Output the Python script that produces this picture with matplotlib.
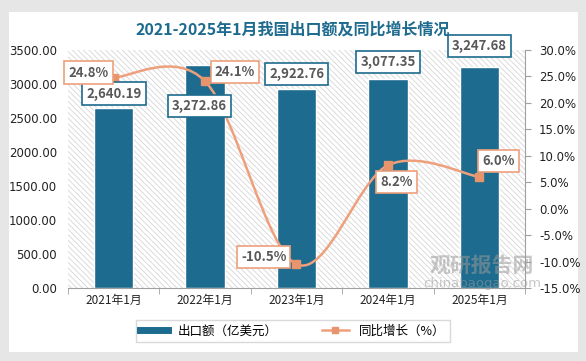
import matplotlib
matplotlib.use("Agg")
import matplotlib.pyplot as plt
from matplotlib.patches import Rectangle, PathPatch
from matplotlib.path import Path
from matplotlib.lines import Line2D
import numpy as np

plt.rcParams['font.family'] = ['Noto Sans CJK SC', 'DejaVu Sans']
plt.rcParams['hatch.linewidth'] = 0.6

categories = ['2021年1月', '2022年1月', '2023年1月', '2024年1月', '2025年1月']
exports = [2640.19, 3272.86, 2922.76, 3077.35, 3247.68]
growth = [24.8, 24.1, -10.5, 8.2, 6.0]
left_ticks = [0, 500, 1000, 1500, 2000, 2500, 3000, 3500]
right_ticks = [-15, -10, -5, 0, 5, 10, 15, 20, 25, 30]

BAR = '#1D6B8E'
LINE = '#EEA07C'
MARK = '#E8956E'
TXT = '#595959'

W, H = 586, 361
fig = plt.figure(figsize=(W/100, H/100), dpi=100, facecolor='#E6E6E6')
fig.patches.append(Rectangle((9/W, 1-352/H), (578-9)/W, (352-12)/H,
                             transform=fig.transFigure, facecolor='white',
                             edgecolor='none', zorder=-10))

ax = fig.add_axes([68/W, 1-288/H, (525-68)/W, (288-50)/H])
ax.set_facecolor('none')
ax.add_patch(Rectangle((0, 0), 1, 1, transform=ax.transAxes, facecolor='white',
                       edgecolor='#D6D6D6', hatch='\\\\\\\\\\\\', lw=0, zorder=0))

x = np.arange(len(categories))
ax.bar(x, exports, width=0.43, color=BAR, edgecolor='white', linewidth=1.0, zorder=2)
ax.set_xlim(-0.5, 4.5)
ax.set_ylim(0, 3500)
ax.set_yticks(left_ticks)
ax.set_yticklabels([f'{v:.2f}' for v in left_ticks], fontsize=8.5, color='#222222',
                   family=['DejaVu Sans'])
ax.set_xticks(x)
ax.set_xticklabels(categories, fontsize=8.5, color='#222222')
ax.tick_params(axis='y', length=0, pad=8)
ax.tick_params(axis='x', length=0, pad=4)
ax.set_xticks(np.arange(-0.5, 5, 1), minor=True)
ax.tick_params(axis='x', which='minor', length=4, color='#A0A0A0')
for s in ['top', 'left', 'right']:
    ax.spines[s].set_visible(False)
ax.spines['bottom'].set_color('#A0A0A0')

ax2 = ax.twinx()
ax2.patch.set_visible(False)
ax2.set_ylim(-15, 30)
ax2.set_yticks(right_ticks)
ax2.set_yticklabels([f'{v:.1f}%' for v in right_ticks], fontsize=8.5, color='#222222',
                    family=['DejaVu Sans'])
ax2.tick_params(axis='y', length=4, color='#A0A0A0', pad=6)
for s in ['top', 'left', 'bottom']:
    ax2.spines[s].set_visible(False)
ax2.spines['right'].set_color('#A0A0A0')

# smooth line (Catmull-Rom as cubic Bezier segments)
pts = np.column_stack([x, growth]).astype(float)
verts = [tuple(pts[0])]
codes = [Path.MOVETO]
n = len(pts)
for i in range(n - 1):
    p0 = pts[i - 1] if i > 0 else pts[i]
    p1 = pts[i]
    p2 = pts[i + 1]
    p3 = pts[i + 2] if i + 2 < n else pts[i + 1]
    c1 = p1 + (p2 - p0) / 6
    c2 = p2 - (p3 - p1) / 6
    verts += [tuple(c1), tuple(c2), tuple(p2)]
    codes += [Path.CURVE4] * 3
ax2.add_patch(PathPatch(Path(verts, codes), facecolor='none', edgecolor=LINE,
                        lw=1.8, zorder=3))
ax2.plot(x, growth, linestyle='none', marker='s', markersize=6, color=MARK, zorder=4)

# bar labels (vertical offset of label centre, in left-axis units)
bar_off = [220, -597, 224, 247, 311]
bar_dx = [0, -0.06, 0, 0, 0]
for i, v in enumerate(exports):
    ax2.text(i + bar_dx[i], (v + bar_off[i]) / 3500 * 45 - 15, f'{v:,.2f}', ha='center',
             va='center', fontsize=9.5, fontweight='bold', color=TXT, zorder=6,
             bbox=dict(boxstyle='square,pad=0.32', facecolor='white', edgecolor=BAR, lw=1.2))

# percentage labels (offset in points)
pct_off = [(-18, 3.6), (21.6, 6.5), (-23.7, 5), (6, -12), (14, 11.5)]
for i, v in enumerate(growth):
    ax2.annotate(f'{v:.1f}%', (i, v), xytext=pct_off[i], textcoords='offset points',
                 ha='center', va='center', fontsize=9.5, fontweight='bold', color=TXT,
                 zorder=7, annotation_clip=False,
                 bbox=dict(boxstyle='square,pad=0.32', facecolor='white', edgecolor=LINE, lw=1.2))

fig.text(0.5, 1-30/H, '2021-2025年1月我国出口额及同比增长情况', ha='center', va='center',
         fontsize=11.5, fontweight='bold', color='#1D6B8E')

# watermark
fig.text(482/W, 1-265/H, '观研报告网', ha='center', va='center', fontsize=15,
         fontweight='bold', color='#9A9A9A', alpha=0.55, zorder=10)
fig.text(482/W, 1-283/H, 'chinabaogao.com', ha='center', va='center', fontsize=9.5,
         color='#9A9A9A', alpha=0.55, zorder=10, family=['DejaVu Sans'])

# legend
handles = [Line2D([0], [0], color=BAR, lw=5),
           Line2D([0], [0], color=LINE, lw=1.8, marker='s', markersize=5,
                  markerfacecolor=MARK, markeredgecolor=MARK)]
leg = fig.legend(handles, ['出口额（亿美元）', '同比增长（%）'], loc='center',
                 bbox_to_anchor=(293/W, 1-331/H), ncol=2, fontsize=9, frameon=True,
                 fancybox=False, edgecolor='#D0D0D0', handlelength=2.2, columnspacing=3.5,
                 borderpad=0.35)
leg.get_frame().set_linewidth(1.0)

fig.savefig('out.png', dpi=100, facecolor=fig.get_facecolor())
